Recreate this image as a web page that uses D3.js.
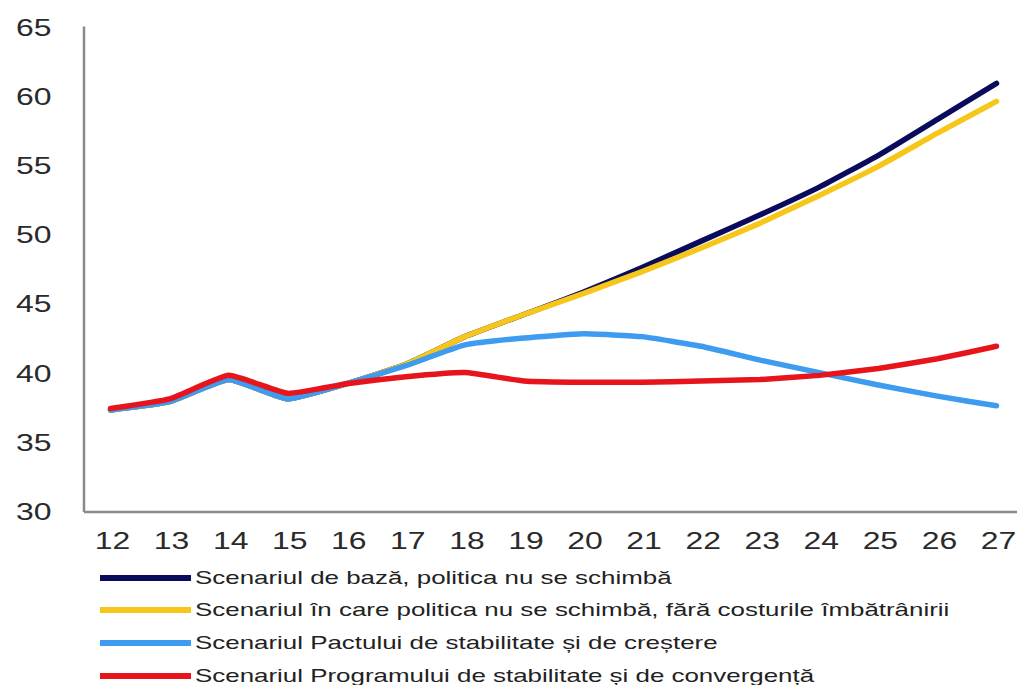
<!DOCTYPE html>
<html><head><meta charset="utf-8">
<script src="https://cdn.jsdelivr.net/npm/d3@7"></script>
<style>body{margin:0;background:#fff;}svg{display:block;}</style>
</head><body>
<svg id="c" width="1017" height="685"></svg>
<script>
const years = ["12","13","14","15","16","17","18","19","20","21","22","23","24","25","26","27"];
const yTicks = [30,35,40,45,50,55,60,65];
const baseScenario   = [37.3,37.9,39.5,38.1,39.2,40.6,42.6,44.2,45.8,47.6,49.5,51.4,53.4,55.7,58.3,60.9];
const noAgingScenario= [37.3,37.9,39.5,38.1,39.2,40.6,42.6,44.2,45.7,47.3,49.0,50.8,52.8,54.9,57.3,59.6];
const sgpScenario    = [37.3,37.9,39.5,38.1,39.2,40.5,42.0,42.5,42.8,42.6,41.9,40.9,40.0,39.1,38.3,37.6];
const scpScenario    = [37.4,38.1,39.8,38.5,39.2,39.7,40.0,39.4,39.3,39.3,39.4,39.5,39.8,40.3,41.0,41.9];
const seriesNames = [
  "Scenariul de bază, politica nu se schimbă",
  "Scenariul în care politica nu se schimbă, fără costurile îmbătrânirii",
  "Scenariul Pactului de stabilitate și de creștere",
  "Scenariul Programului de stabilitate și de convergență"
];
const seriesColors = ["#0b0b5c","#f6c71a","#3d9bf0","#e8141b"];
const seriesData = [baseScenario, noAgingScenario, sgpScenario, scpScenario];

const svg = d3.select("#c");
const font = "'Liberation Sans', Arial, sans-serif";
const x = d3.scalePoint().domain(years).range([110.5, 996.5]);
const y = d3.scaleLinear().domain([30, 65]).range([511, 26.6]);

// axes lines
svg.append("line").attr("x1",84).attr("x2",84).attr("y1",y(65)).attr("y2",512)
  .attr("stroke","#8a8a8a").attr("stroke-width",2.5);
svg.append("line").attr("x1",84).attr("x2",1017).attr("y1",512).attr("y2",512)
  .attr("stroke","#8a8a8a").attr("stroke-width",2.5);

// y tick labels
const yAxis = d3.axisLeft(y).tickValues(yTicks).tickSize(0).tickPadding(0);
const gy = svg.append("g").attr("transform","translate(16,0)").call(yAxis);
gy.select(".domain").remove();
gy.selectAll("text").attr("text-anchor","start").attr("x",0).attr("dy","0.35em")
  .attr("transform","scale(1.33,1)")
  .style("font-family",font).style("font-size","24px").attr("fill","#2a2a2a");

// x tick labels
const xAxis = d3.axisBottom(x).tickSize(0).tickPadding(0);
const gx = svg.append("g").attr("transform","translate(1.5,541)").call(xAxis);
gx.select(".domain").remove();
gx.selectAll("text").attr("dy","0.35em").attr("y",0)
  .attr("transform","scale(1.33,1)")
  .style("font-family",font).style("font-size","24px").attr("fill","#2a2a2a");

// lines
const line = d3.line().x((d,i)=>x(years[i])).y(d=>y(d)).curve(d3.curveCardinal.tension(0.6));
seriesData.forEach((s,k)=>{
  svg.append("path").datum(s).attr("d",line).attr("fill","none")
    .attr("stroke",seriesColors[k]).attr("stroke-width",5.5)
    .attr("stroke-linecap","round").attr("stroke-linejoin","round");
});

// legend
const legY = [578, 610, 643, 676];
seriesNames.forEach((n,k)=>{
  svg.append("line").attr("x1",100).attr("x2",191).attr("y1",legY[k]).attr("y2",legY[k])
    .attr("stroke",seriesColors[k]).attr("stroke-width",6);
  svg.append("text").attr("transform",`translate(195,${legY[k]}) scale(1.44,1)`)
    .attr("dy","0.35em")
    .style("font-family",font).style("font-size","18px").attr("fill","#222").text(n);
});
</script>
</body></html>
